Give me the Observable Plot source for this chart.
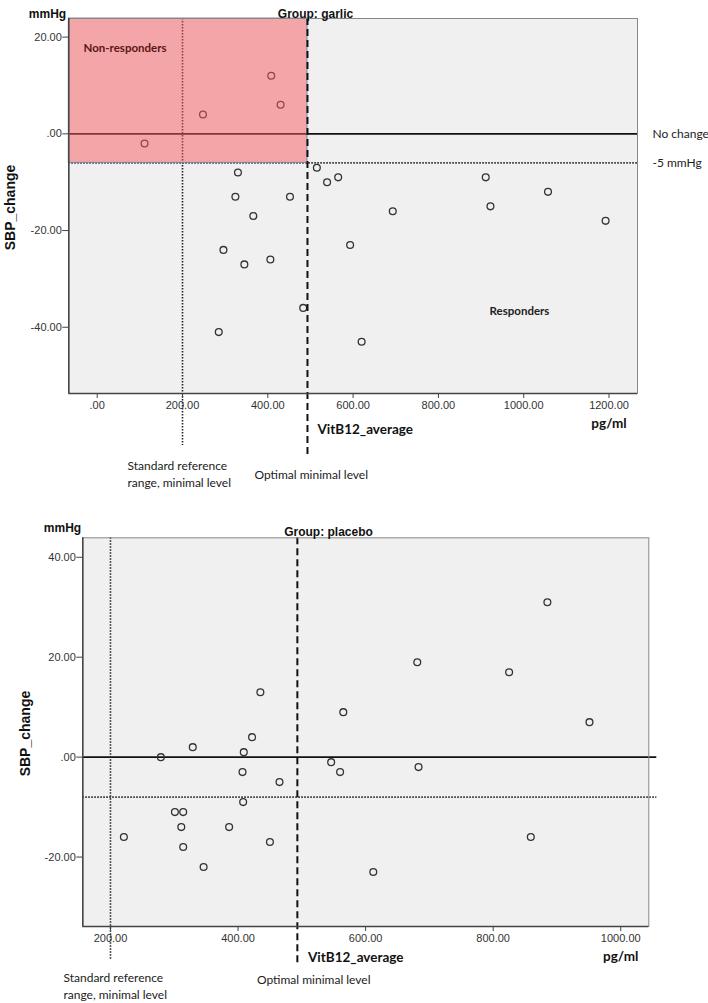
<!DOCTYPE html>
<html><head><meta charset="utf-8">
<script src="https://cdn.jsdelivr.net/npm/d3@7"></script>
<script src="https://cdn.jsdelivr.net/npm/@observablehq/plot@0.6"></script>
<style>html,body{margin:0;padding:0;background:#fff;overflow:hidden}#chart svg{display:block}</style>
</head><body><div id="chart"></div>
<script>
// ---- Data ----
const garlicVitB12 = [111,248,408,430,330,324,452,366,296,345,406,483,285,515,539,565,593,620,693,911,922,1057,1192];
const garlicSBP    = [-2,4,12,6,-8,-13,-13,-17,-24,-27,-26,-36,-41,-7,-10,-9,-23,-43,-16,-9,-15,-12,-18];
const placeboVitB12 = [221,279,329,435,422,409,407,465,408,301,314,311,386,546,560,565,681,825,885,951,683,859,314,450,346,612];
const placeboSBP    = [-16,0,2,13,4,1,-3,-5,-9,-11,-11,-14,-14,-1,-3,9,19,17,31,7,-2,-16,-18,-17,-22,-23];

const garlicXTicks = [0,200,400,600,800,1000,1200];
const garlicYTicks = [20,0,-20,-40];
const placeboXTicks = [200,400,600,800,1000];
const placeboYTicks = [40,20,0,-20];

const garlicXDomain = [-66.6, 1266.8];
const garlicYDomain = [-53.7, 23.85];
const placeboXDomain = [156.6, 1044];
const placeboYDomain = [-33.9, 43.9];

const refMinimal = 200;       // standard reference range, minimal level
const optimalMinimal = 493;   // optimal minimal level
const noChange = 0;
const garlicThreshold = -6;   // drawn "-5 mmHg" line
const placeboThreshold = -8;

const fmt = d => d === 0 ? ".00" : d.toFixed(2);
const CAL = "Lato, 'Open Sans', sans-serif";
const ARI = "'Liberation Sans', Arial, sans-serif";

function panel(o) {
  const W = 708;
  const {mL, mR, mT, mB, H} = o;
  const rows = o.xs.map((x, i) => ({x, y: o.ys[i]}));
  const at = (px, py) => ({frameAnchor: "top-left", dx: px - mL, dy: py - mT});
  const marks = [
    Plot.frame({fill: "#f0f0f0", stroke: "none"}),
    Plot.ruleY([noChange], {stroke: "#111", strokeWidth: 1.6, insetRight: o.extRight}),
    Plot.ruleY([o.threshold], {stroke: "#222", strokeWidth: 1.6, strokeDasharray: "1.5,1.5", insetRight: o.extRight}),
    Plot.ruleX([refMinimal], {stroke: "#222", strokeWidth: 1.6, strokeDasharray: "1.5,1.5", insetBottom: o.refExt}),
    Plot.dot(rows, {x: "x", y: "y", r: 3.4, stroke: "#333", strokeWidth: 1.3, fill: "none"})
  ];
  if (o.redBox) {
    marks.push(Plot.rect([{x1: o.xDomain[0], x2: optimalMinimal, y1: o.threshold, y2: o.yDomain[1]}],
      {x1: "x1", x2: "x2", y1: "y1", y2: "y2", fill: "rgb(248,90,96)", fillOpacity: 0.5, stroke: "#7d8aa3", strokeWidth: 1}));
    marks.push(Plot.text(["Non-responders"], {...at(83, 43), textAnchor: "start", fontFamily: CAL, fontWeight: "bold", fontSize: 11.5, fill: "#5a1616"}));
    marks.push(Plot.text(["Responders"], {...at(519, 306), textAnchor: "middle", fontFamily: CAL, fontWeight: "bold", fontSize: 11.5, fill: "#222"}));
    marks.push(Plot.text([noChange], {y: d => d, text: () => "No change", frameAnchor: "right", dx: 15, textAnchor: "start", fontFamily: CAL, fontSize: 12, fill: "#222"}));
    marks.push(Plot.text([o.threshold], {y: d => d, text: () => "-5 mmHg", frameAnchor: "right", dx: 15, textAnchor: "start", fontFamily: CAL, fontSize: 12, fill: "#222"}));
  }
  marks.push(
    Plot.ruleX([optimalMinimal], {stroke: "#111", strokeWidth: 2, strokeDasharray: "7,4", insetBottom: o.optExt}),
    Plot.frame({stroke: "#888", strokeWidth: 1}),
    Plot.ruleX([o.xDomain[0]], {stroke: "#444", strokeWidth: 1.5}),
    Plot.ruleY([o.yDomain[0]], {stroke: "#444", strokeWidth: 1.5}),
    Plot.axisX(o.xTicks, {anchor: "bottom", tickSize: 5, tickPadding: 3, tickFormat: fmt, fontSize: 11, fill: "#333", stroke: "#444", label: null, fontFamily: ARI}),
    Plot.axisY(o.yTicks, {anchor: "left", tickSize: 6, tickPadding: 1, tickFormat: fmt, fontSize: 11, fill: "#333", stroke: "#444", label: null, fontFamily: ARI}),
    Plot.text([o.title], {...at(o.titleX, o.titleY), textAnchor: "middle", fontFamily: ARI, fontWeight: "bold", fontSize: 12, fill: "#111"}),
    Plot.text(["mmHg"], {...at(o.mmX, o.mmY), textAnchor: "middle", fontFamily: ARI, fontWeight: "bold", fontSize: 12, fill: "#111"}),
    Plot.text(["SBP_change"], {frameAnchor: "left", dx: o.sbpX - mL, dy: o.sbpDy, rotate: -90, textAnchor: "middle", fontFamily: ARI, fontWeight: "bold", fontSize: 14, fill: "#111"}),
    Plot.text([optimalMinimal], {x: d => d, text: () => "VitB12_average", frameAnchor: "bottom", dx: o.vitDx, dy: o.vitDy, textAnchor: "start", fontFamily: CAL, fontWeight: "bold", fontSize: 13.5, fill: "#111"}),
    Plot.text([o.xTicks[o.xTicks.length - 1]], {x: d => d, text: () => "pg/ml", frameAnchor: "bottom", dy: o.pgDy, textAnchor: "middle", fontFamily: CAL, fontWeight: "bold", fontSize: 13.5, fill: "#111"}),
    Plot.text([refMinimal], {x: d => d, text: () => "Standard reference\nrange, minimal level", frameAnchor: "bottom", dx: o.refDx, dy: o.refDy, lineAnchor: "middle", lineHeight: 1.4, textAnchor: "start", fontFamily: CAL, fontSize: 12, fill: "#222"}),
    Plot.text([optimalMinimal], {x: d => d, text: () => "Optimal minimal level", frameAnchor: "bottom", dx: o.optDx, dy: o.optDy, textAnchor: "start", fontFamily: CAL, fontSize: 12, fill: "#222"})
  );
  return Plot.plot({
    width: W, height: H,
    marginLeft: mL, marginRight: mR, marginTop: mT, marginBottom: mB,
    x: {domain: o.xDomain}, y: {domain: o.yDomain},
    style: {fontFamily: ARI, background: "#fff", overflow: "visible"},
    marks
  });
}

const chart = document.getElementById("chart");
chart.append(panel({
  H: 500, mL: 68.3, mR: 71, mT: 18, mB: 107,
  xs: garlicVitB12, ys: garlicSBP, xDomain: garlicXDomain, yDomain: garlicYDomain,
  xTicks: garlicXTicks, yTicks: garlicYTicks, threshold: garlicThreshold,
  extRight: 0, refExt: -52, optExt: -61, redBox: true,
  title: "Group: garlic", titleX: 315, titleY: 9, mmX: 47, mmY: 9, sbpX: 10, sbpDy: 1.5,
  vitDx: 10, vitDy: 40, pgDy: 34, refDx: -55, refDy: 80, optDx: -53, optDy: 85
}));
chart.append(panel({
  H: 503, mL: 82.3, mR: 59.7, mT: 37.3, mB: 77,
  xs: placeboVitB12, ys: placeboSBP, xDomain: placeboXDomain, yDomain: placeboYDomain,
  xTicks: placeboXTicks, yTicks: placeboYTicks, threshold: placeboThreshold,
  extRight: -8, refExt: -34, optExt: -39, redBox: false,
  title: "Group: placebo", titleX: 328, titleY: 27, mmX: 62, mmY: 23, sbpX: 25, sbpDy: 1.4,
  vitDx: 10.6, vitDy: 35, pgDy: 34, refDx: -47, refDy: 59, optDx: -40.4, optDy: 57
}));
</script>
</body></html>
